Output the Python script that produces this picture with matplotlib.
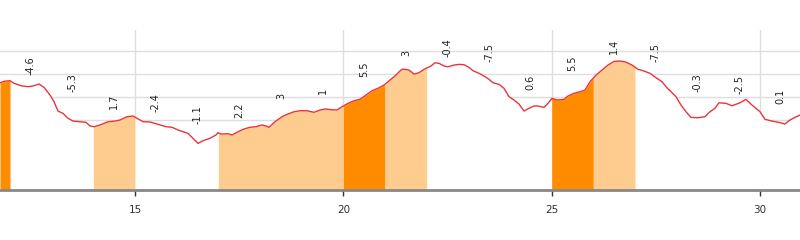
import numpy as np
import matplotlib
matplotlib.use("Agg")
import matplotlib.pyplot as plt

# Elevation profile (distance in km, elevation in m)
km = [11.76, 11.856, 12.0, 12.096, 12.288, 12.432, 12.552, 12.696, 12.816, 12.96,
      13.056, 13.152, 13.272, 13.392, 13.512, 13.68, 13.824, 13.92, 14.016, 14.16,
      14.352, 14.52, 14.64, 14.808, 14.952, 15.048, 15.192, 15.36, 15.6, 15.744,
      15.888, 16.032, 16.152, 16.272, 16.392, 16.512, 16.632, 16.8, 16.944, 16.992,
      17.064, 17.232, 17.328, 17.472, 17.616, 17.76, 17.904, 18.048, 18.144, 18.216,
      18.36, 18.528, 18.672, 18.816, 18.96, 19.128, 19.296, 19.44, 19.584, 19.704,
      19.848, 19.968, 20.112, 20.256, 20.4, 20.544, 20.688, 20.832, 20.976, 21.12,
      21.264, 21.384, 21.432, 21.576, 21.696, 21.816, 21.936, 22.104, 22.2, 22.296,
      22.416, 22.512, 22.656, 22.776, 22.896, 23.016, 23.112, 23.256, 23.376, 23.496,
      23.592, 23.736, 23.856, 23.976, 24.096, 24.216, 24.336, 24.456, 24.576, 24.672,
      24.816, 24.912, 25.008, 25.128, 25.296, 25.392, 25.536, 25.68, 25.8, 25.92,
      26.064, 26.208, 26.352, 26.496, 26.64, 26.784, 26.928, 27.072, 27.216, 27.36,
      27.504, 27.648, 27.78, 27.84, 27.984, 28.104, 28.224, 28.344, 28.512, 28.68,
      28.8, 28.92, 29.016, 29.184, 29.328, 29.52, 29.664, 29.808, 30.0, 30.12,
      30.288, 30.48, 30.6, 30.72, 30.84, 30.96]
elev = [92.4, 93.7, 94.2, 91.9, 89.6, 89.0, 89.6, 91.3, 88.4, 81.7,
        75.9, 67.8, 65.8, 61.5, 59.1, 58.5, 58.0, 54.8, 54.2, 55.7,
        58.5, 59.1, 60.0, 62.9, 63.5, 61.5, 58.5, 58.3, 55.7, 54.2,
        53.7, 51.3, 49.8, 48.4, 44.1, 39.7, 42.0, 44.1, 47.0, 49.0,
        47.8, 48.1, 47.0, 49.8, 52.2, 53.7, 54.2, 55.7, 54.8, 53.7,
        58.5, 62.9, 65.2, 67.2, 68.1, 68.1, 66.7, 68.7, 69.6, 69.0,
        68.7, 71.6, 74.5, 76.8, 78.0, 81.7, 85.5, 87.6, 90.4, 94.8,
        99.1, 103.5, 104.3, 103.5, 100.0, 101.1, 104.1, 107.0, 109.8, 109.3,
        107.0, 106.3, 107.8, 108.4, 108.1, 105.8, 102.9, 100.6, 98.3, 95.4,
        92.4, 91.0, 87.6, 80.3, 77.4, 73.9, 67.8, 70.2, 72.2, 72.2,
        71.0, 74.5, 78.9, 77.4, 78.0, 80.9, 83.2, 84.6, 86.1, 93.3,
        99.1, 103.5, 107.8, 111.0, 111.3, 110.4, 107.8, 104.1, 102.6, 100.6,
        96.8, 93.3, 87.5, 85.5, 80.3, 73.0, 67.2, 62.3, 62.0, 62.9,
        67.2, 70.2, 75.0, 74.5, 72.4, 75.0, 78.0, 73.0, 67.2, 60.6,
        59.1, 57.7, 56.5, 60.0, 62.3, 64.3]

# Gradient (%) per 1-km segment, segment starts in km
seg_start = [11, 12, 13, 14, 15, 16, 17, 18, 19, 20,
             21, 22, 23, 24, 25, 26, 27, 28, 29, 30]
gradient = [5.5, -4.6, -5.3, 1.7, -2.4, -1.1, 2.2, 3, 1, 5.5,
            3, -0.4, -7.5, 0.6, 5.5, 1.4, -7.5, -0.3, -2.5, 0.1]
grad_labels = ["5.5", "-4.6", "-5.3", "1.7", "-2.4", "-1.1", "2.2", "3", "1", "5.5",
               "3", "-0.4", "-7.5", "0.6", "5.5", "1.4", "-7.5", "-0.3", "-2.5", "0.1"]
xticks = [15, 20, 25, 30]

km = np.array(km)
elev = np.array(elev)

DARK = "#ff8c00"
LIGHT = "#ffcc8f"
LINE = "#e8343c"

fig = plt.figure(figsize=(8, 2.4), dpi=100)
ax = fig.add_axes([0, 50 / 240, 1, 160 / 240])

ymin, ymax = -0.87, 138.3
xmin, xmax = 11.76, 30.96
ax.set_xlim(xmin, xmax)
ax.set_ylim(ymin, ymax)

# grid
ax.set_yticks([20, 40, 60, 80, 100, 120])
ax.set_xticks(xticks)
ax.grid(True, color="#dedede", linewidth=1, zorder=0)
ax.set_axisbelow(True)

# white area under profile hides the grid
ax.fill_between(km, elev, ymin, color="white", zorder=1, linewidth=0)


def seg_color(g):
    if g >= 5:
        return DARK
    if g >= 1:
        return LIGHT
    return None


# coloured segments: merge consecutive segments of the same colour
runs = []
for s, g in zip(seg_start, gradient):
    col = seg_color(g)
    if col is None:
        continue
    if runs and runs[-1][2] == col and abs(runs[-1][1] - s) < 1e-9:
        runs[-1][1] = s + 1
    else:
        runs.append([s, s + 1, col])

for a, b, col in runs:
    a, b = max(a, xmin), min(b, xmax)
    inner = km[(km > a) & (km < b)]
    xs = np.concatenate([[a], inner, [b]])
    ys = np.interp(xs, km, elev)
    ax.fill_between(xs, ys, ymin, color=col, zorder=2, linewidth=0)

ax.plot(km, elev, color=LINE, linewidth=1, zorder=3)

# gradient labels (only those inside the visible window)
for s, lab in zip(seg_start, grad_labels):
    xc = s + 0.5
    if xc < xmin or xc > xmax:
        continue
    a, b = s, s + 1
    inner = km[(km >= a) & (km <= b)]
    pts = np.concatenate([np.interp([a, b], km, elev), np.interp(inner, km, elev)])
    top = pts.max()
    ax.text(xc, top + 13, lab, rotation=90, ha="center", va="center",
            fontsize=7, color="#222222", zorder=4)

for side in ["top", "left", "right"]:
    ax.spines[side].set_visible(False)
ax.spines["bottom"].set_color("#888888")
ax.spines["bottom"].set_linewidth(2)
ax.spines["bottom"].set_zorder(5)

ax.tick_params(axis="y", left=False, labelleft=False)
ax.tick_params(axis="x", direction="out", length=4, width=1, color="#333333",
               labelsize=7.5, labelcolor="#333333", pad=7)

fig.savefig("out.png", dpi=100)
